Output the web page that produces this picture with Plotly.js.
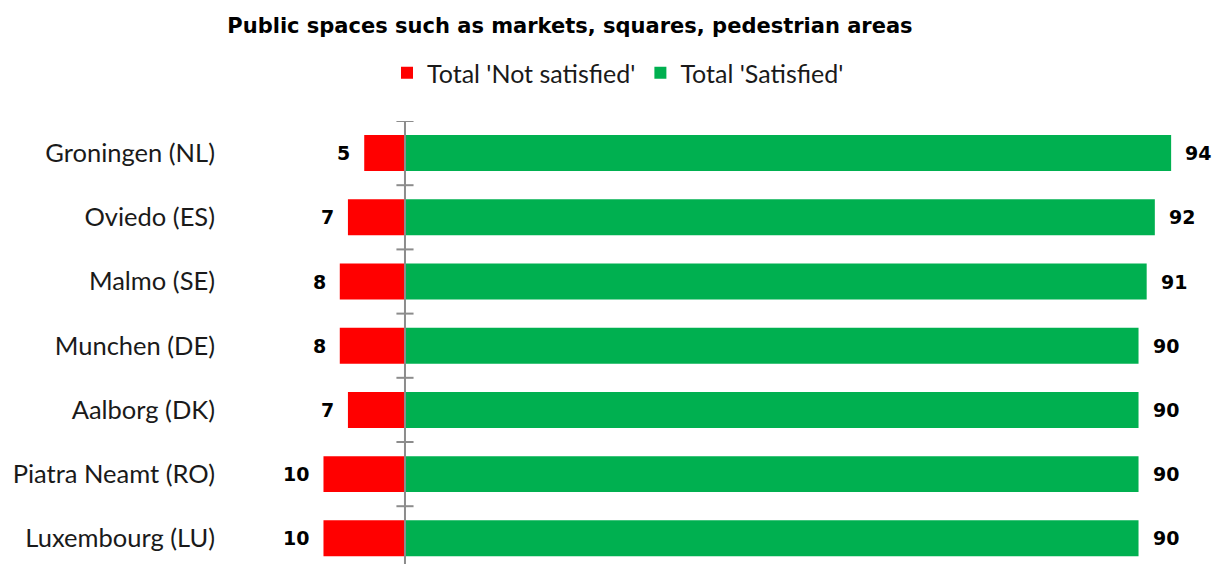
<!DOCTYPE html>
<html>
<head>
<meta charset="utf-8">
<script src="https://cdn.plot.ly/plotly-3.0.1.min.js"></script>
<style>html,body{margin:0;padding:0;background:#fff;}#chart{width:1214px;height:564px;}</style>
</head>
<body>
<div id="chart"></div>
<script>
const cities = ["Groningen (NL)", "Oviedo (ES)", "Malmo (SE)", "Munchen (DE)", "Aalborg (DK)", "Piatra Neamt (RO)", "Luxembourg (LU)"];
const notSatisfied = [5, 7, 8, 8, 7, 10, 10];
const satisfied = [94, 92, 91, 90, 90, 90, 90];
const seriesNames = ["Total 'Not satisfied'", "Total 'Satisfied'"];
const colors = ["#FF0000", "#00B050"];

const traces = [
  {
    type: 'bar', orientation: 'h', name: seriesNames[0], y: cities,
    x: notSatisfied.map(v => -v), marker: {color: colors[0]},
    hoverinfo: 'skip'
  },
  {
    type: 'bar', orientation: 'h', name: seriesNames[1], y: cities,
    x: satisfied, marker: {color: colors[1]},
    hoverinfo: 'skip'
  }
];

const labelFont = {family: 'DejaVu Sans', size: 19, color: '#000', weight: 'bold'};
const annotations = [];
cities.forEach((c, i) => {
  annotations.push({x: -notSatisfied[i], y: c, xref: 'x', yref: 'y', text: '<b>' + notSatisfied[i] + '</b>',
    showarrow: false, xanchor: 'right', xshift: -12, font: labelFont});
  annotations.push({x: satisfied[i], y: c, xref: 'x', yref: 'y', text: '<b>' + satisfied[i] + '</b>',
    showarrow: false, xanchor: 'left', xshift: 12, font: labelFont});
});

const shapes = [{type: 'line', xref: 'x', yref: 'paper', x0: 0, x1: 0, y0: 0, y1: 1,
  line: {color: '#8C8C8C', width: 2}, layer: 'above'}];
cities.forEach((c, i) => {
  shapes.push({type: 'line', xref: 'x', yref: 'y', x0: -1.05, x1: 1.05, y0: i - 0.5, y1: i - 0.5,
    line: {color: '#8C8C8C', width: 2}, layer: 'above'});
});

const layout = {
  width: 1214, height: 564,
  margin: {l: 226, r: 0, t: 121, b: 0, pad: 0},
  paper_bgcolor: '#fff', plot_bgcolor: '#fff',
  barmode: 'relative', bargap: 0.44,
  title: {text: '<b>Public spaces such as markets, squares, pedestrian areas</b>',
    font: {family: 'DejaVu Sans', size: 21, color: '#000'},
    x: 0.4695, xref: 'container', xanchor: 'center', y: 1 - 26/564, yref: 'container', yanchor: 'middle'},
  showlegend: true,
  legend: {orientation: 'h', x: (618 - 226) / 988, xanchor: 'center', y: 1 - 73/564, yref: 'container', yanchor: 'middle',
    font: {family: 'Lato', size: 25, color: '#1a1a1a'}, itemwidth: 30, traceorder: 'normal'},
  xaxis: {range: [-21.96, 99.26], showgrid: false, zeroline: false, showticklabels: false, ticks: '', showline: false, fixedrange: true},
  yaxis: {type: 'category', range: [6.4, -0.5], showgrid: false, zeroline: false, showline: false, ticks: '',
    ticklabelstandoff: 10,
    tickfont: {family: 'Lato', size: 25.5, color: '#1a1a1a'}, fixedrange: true},
  annotations: annotations,
  shapes: shapes
};

Plotly.newPlot('chart', traces, layout, {displayModeBar: false, staticPlot: true});
</script>
</body>
</html>
